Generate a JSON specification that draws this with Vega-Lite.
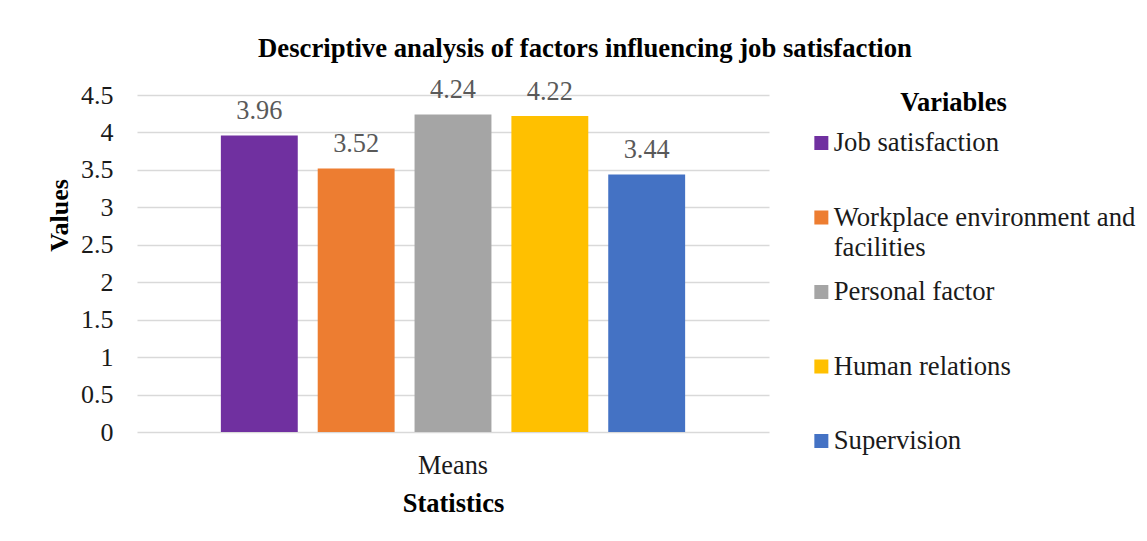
{
  "$schema": "https://vega.github.io/schema/vega-lite/v6.json",
  "autosize": {"type": "none"},
  "width": 632,
  "height": 337,
  "padding": {"left": 137, "top": 95, "right": 378, "bottom": 109},
  "background": "white",
  "title": {
    "text": "Descriptive analysis of factors influencing job satisfaction",
    "font": "Liberation Serif",
    "fontSize": 26.7,
    "fontWeight": "bold",
    "color": "#000000",
    "anchor": "middle",
    "dx": 132,
    "baseline": "alphabetic",
    "offset": -6
  },
  "data": {
    "values": [
      {"Statistics": "Means", "Variable": "Job satisfaction", "value": 3.96},
      {"Statistics": "Means", "Variable": "Workplace environment and facilities", "value": 3.52},
      {"Statistics": "Means", "Variable": "Personal factor", "value": 4.24},
      {"Statistics": "Means", "Variable": "Human relations", "value": 4.22},
      {"Statistics": "Means", "Variable": "Supervision", "value": 3.44}
    ]
  },
  "encoding": {
    "x": {
      "field": "Statistics",
      "type": "nominal",
      "scale": {"paddingInner": 0, "paddingOuter": 0.1526},
      "axis": {
        "title": "Statistics",
        "labelAngle": 0,
        "domain": false,
        "ticks": false,
        "tickSize": 0,
        "labelBaseline": "alphabetic",
        "labelPadding": 41,
        "labelFont": "Liberation Serif",
        "labelFontSize": 26.3,
        "labelColor": "#1a1a1a",
        "titleFont": "Liberation Serif",
        "titleFontSize": 26.5,
        "titleFontWeight": "bold",
        "titleColor": "#000000",
        "titleBaseline": "alphabetic",
        "titleY": 79
      }
    },
    "xOffset": {
      "field": "Variable",
      "type": "nominal",
      "sort": ["Job satisfaction", "Workplace environment and facilities", "Personal factor", "Human relations", "Supervision"],
      "scale": {"paddingInner": 0.206, "paddingOuter": 0.103}
    },
    "y": {
      "field": "value",
      "type": "quantitative",
      "scale": {"domain": [0, 4.5], "nice": false, "zero": true},
      "axis": {
        "title": "Values",
        "values": [0, 0.5, 1, 1.5, 2, 2.5, 3, 3.5, 4, 4.5],
        "format": "~g",
        "grid": true,
        "gridColor": "#d9d9d9",
        "gridWidth": 1.5,
        "domain": false,
        "ticks": false,
        "tickSize": 0,
        "labelPadding": 24,
        "labelFont": "Liberation Serif",
        "labelFontSize": 26,
        "labelColor": "#1a1a1a",
        "labelBaseline": "middle",
        "titleFont": "Liberation Serif",
        "titleFontSize": 26,
        "titleFontWeight": "bold",
        "titleColor": "#000000",
        "titleAngle": 270,
        "titleAlign": "center",
        "titleBaseline": "alphabetic",
        "titleX": -70,
        "titleY": 120
      }
    }
  },
  "layer": [
    {
      "mark": {"type": "bar"},
      "encoding": {
        "color": {
          "field": "Variable",
          "type": "nominal",
          "sort": ["Job satisfaction", "Workplace environment and facilities", "Personal factor", "Human relations", "Supervision"],
          "scale": {
            "domain": ["Job satisfaction", "Workplace environment and facilities", "Personal factor", "Human relations", "Supervision"],
            "range": ["#7030A0", "#ED7D31", "#A5A5A5", "#FFC000", "#4472C4"]
          },
          "legend": {
            "title": "Variables",
            "orient": "none",
            "legendX": 671,
            "legendY": -5.5,
            "padding": 0,
            "titleFont": "Liberation Serif",
            "titleFontSize": 26.5,
            "titleFontWeight": "bold",
            "titleColor": "#000000",
            "titleAnchor": "middle",
            "titlePadding": 2,
            "symbolType": "square",
            "symbolSize": 196,
            "symbolStrokeWidth": 0,
            "labelFont": "Liberation Serif",
            "labelFontSize": 26.7,
            "labelColor": "#1a1a1a",
            "labelOffset": -1,
            "labelLimit": 500,
            "clipHeight": 50,
            "rowPadding": 5.5,
            "labelExpr": "datum.label == 'Workplace environment and facilities' ? ['Workplace environment and', 'facilities'] : [datum.label, ' ']",
            "encode": {
              "labels": {
                "update": {
                  "lineHeight": {"value": 30}
                }
              },
              "title": {
                "update": {"dx": {"value": -18.5}}
              }
            }
          }
        }
      }
    },
    {
      "mark": {
        "type": "text",
        "baseline": "alphabetic",
        "dy": -16,
        "font": "Liberation Serif",
        "fontSize": 26.3,
        "color": "#595959"
      },
      "encoding": {
        "text": {"field": "value", "type": "quantitative", "format": ".2f"}
      }
    }
  ],
  "config": {
    "font": "Liberation Serif",
    "view": {"stroke": null}
  }
}
